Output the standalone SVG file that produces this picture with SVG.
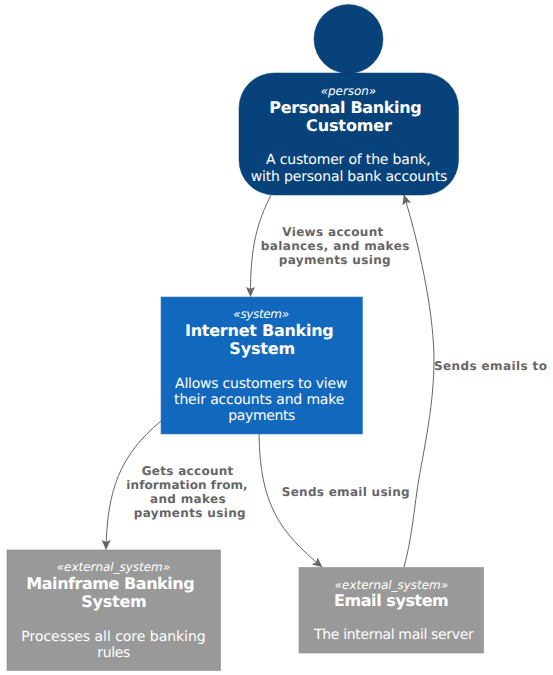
<svg xmlns="http://www.w3.org/2000/svg" width="553" height="675" viewBox="0 0 553 675">
<defs>
<marker id="arrow" viewBox="0 0 10 9" refX="9.5" refY="4.5" markerWidth="10" markerHeight="9" markerUnits="userSpaceOnUse" orient="auto"><path d="M0,0 L10,4.5 L0,9 L2,4.5 Z" fill="#666666"/></marker>
</defs>
<style>
text{font-family:"DejaVu Sans",Verdana,sans-serif;text-anchor:middle;fill:#FFFFFF;text-rendering:geometricPrecision}
.st{font-size:12px;font-style:italic}
.ti{font-size:16px;font-weight:bold}
.de{font-size:14px}
.lb{font-size:12px;font-weight:bold;fill:#666666}
.edge{fill:none;stroke:#666666;stroke-width:1}
.sysbox{fill:#1168BD;stroke:#3C7FC0;stroke-width:0.6}
.extbox{fill:#999999;stroke:#8A8A8A;stroke-width:0.6}
</style>
<rect width="553" height="675" fill="#FFFFFF"/>
<g id="connectors">
<path class="edge" marker-end="url(#arrow)" d="M271,195 C258,221 250,245 250.5,296.5"/>
<path class="edge" marker-end="url(#arrow)" d="M161,421 C120,455 107,490 106,549.5"/>
<path class="edge" marker-end="url(#arrow)" d="M259,434 C260,505 280,532 322,567"/>
<path class="edge" marker-end="url(#arrow)" d="M404,567 C411,542 414,512 417,491 C421,462 434,410 434,360 C434,320 423,258 404,195"/>
<g id="edge-labels">
<text class="lb" x="332.8" y="236" textLength="101">Views account</text>
<text class="lb" x="335" y="250" textLength="148.7">balances, and makes</text>
<text class="lb" x="334.7" y="264" textLength="112">payments using</text>
<text class="lb" x="187.5" y="475" textLength="91.7">Gets account</text>
<text class="lb" x="187" y="489" textLength="121.3">information from,</text>
<text class="lb" x="187.8" y="503" textLength="75.7">and makes</text>
<text class="lb" x="189.7" y="517" textLength="112">payments using</text>
<text class="lb" x="345.7" y="496" textLength="128">Sends email using</text>
<text class="lb" x="490.5" y="370" textLength="113">Sends emails to</text>
</g>
</g>
<g id="customer">
<circle cx="348.5" cy="39" r="34.5" fill="#08427B" stroke="#073B6F" stroke-width="0.5"/>
<rect x="239" y="73" width="219.5" height="122" rx="35" ry="35" fill="#08427B" stroke="#073B6F" stroke-width="0.5"/>
<text class="st" x="348.4" y="95" textLength="55.3">«person»</text>
<text class="ti" x="345.5" y="113" textLength="152.4">Personal Banking</text>
<text class="ti" x="349" y="131" textLength="86">Customer</text>
<text class="de" x="348.4" y="164" textLength="164.7">A customer of the bank,</text>
<text class="de" x="349" y="181" textLength="196.7">with personal bank accounts</text>
</g>
<g id="internet-banking">
<rect class="sysbox" x="161" y="297" width="201.5" height="137"/>
<text class="st" x="261.2" y="318" textLength="55.7">«system»</text>
<text class="ti" x="259.4" y="336" textLength="148.7">Internet Banking</text>
<text class="ti" x="262.2" y="354" textLength="65.7">System</text>
<text class="de" x="261.2" y="388" textLength="172.3">Allows customers to view</text>
<text class="de" x="259.2" y="404" textLength="170.3">their accounts and make</text>
<text class="de" x="261.8" y="420" textLength="67">payments</text>
</g>
<g id="mainframe">
<rect class="extbox" x="7" y="550" width="213.5" height="120.5"/>
<text class="st" x="113.4" y="571" textLength="113.3">«external_system»</text>
<text class="ti" x="110.5" y="589" textLength="168.4">Mainframe Banking</text>
<text class="ti" x="114" y="607" textLength="65.4">System</text>
<text class="de" x="113.5" y="641" textLength="184.4">Processes all core banking</text>
<text class="de" x="113.8" y="657" textLength="33">rules</text>
</g>
<g id="email">
<rect class="extbox" x="299" y="567.5" width="184.5" height="85.5"/>
<text class="st" x="391.4" y="589" textLength="113.3">«external_system»</text>
<text class="ti" x="391.4" y="606" textLength="114.7">Email system</text>
<text class="de" x="393.9" y="639" textLength="159.7">The internal mail server</text>
</g>
</svg>
